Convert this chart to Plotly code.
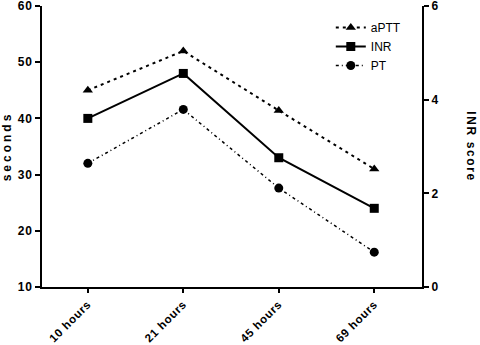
import plotly.graph_objects as go

categories = ["10 hours", "21 hours", "45 hours", "69 hours"]
aptt = [45, 52, 41.4, 31]
inr = [40, 48, 33, 24]
pt = [32, 41.6, 27.6, 16.2]

font_family = "Liberation Sans, Arial, sans-serif"

fig = go.Figure()
fig.add_trace(go.Scatter(
    x=categories, y=aptt, name="aPTT", mode="lines+markers",
    line=dict(color="black", width=2, dash="3px,4px"),
    marker=dict(symbol="triangle-up", size=9, color="black"),
))
fig.add_trace(go.Scatter(
    x=categories, y=inr, name="INR", mode="lines+markers",
    line=dict(color="black", width=2),
    marker=dict(symbol="square", size=9, color="black"),
))
fig.add_trace(go.Scatter(
    x=categories, y=pt, name="PT", mode="lines+markers",
    line=dict(color="black", width=1.5, dash="3px,3px,1px,3px"),
    marker=dict(symbol="circle", size=9, color="black"),
))
fig.add_trace(go.Scatter(
    x=categories, y=[None] * len(categories), yaxis="y2",
    showlegend=False, hoverinfo="skip", mode="lines",
))

tickfont = dict(family=font_family, size=12, color="black", weight="bold")
xtickfont = dict(family=font_family, size=11.5, color="black", weight="bold")

fig.update_layout(
    width=480, height=345,
    margin=dict(l=42, r=58, t=6, b=58, autoexpand=False),
    paper_bgcolor="white", plot_bgcolor="white",
    font=dict(family=font_family, color="black"),
    xaxis=dict(
        type="category", range=[-0.48, 3.5], automargin=False,
        showline=True, linecolor="black", linewidth=2,
        ticks="outside", ticklen=4, tickwidth=2, tickcolor="black",
        tickangle=-45, tickfont=xtickfont, showgrid=False, zeroline=False,
    ),
    yaxis=dict(
        range=[10, 60], dtick=10, ticklabeloverflow="allow", automargin=False,
        showline=True, linecolor="black", linewidth=2,
        ticks="outside", ticklen=5, tickwidth=2, tickcolor="black",
        tickfont=tickfont, showgrid=False, zeroline=False,
        title=dict(text="seconds", font=dict(family=font_family, size=12, color="black", weight="bold"), standoff=6),
    ),
    yaxis2=dict(
        overlaying="y", side="right", anchor="x", automargin=False,
        range=[0, 6], dtick=2, ticklabeloverflow="allow",
        showline=True, linecolor="black", linewidth=2,
        ticks="outside", ticklen=5, tickwidth=2, tickcolor="black",
        tickfont=tickfont, showgrid=False, zeroline=False,
    ),
    legend=dict(
        x=0.76, y=0.975, xanchor="left", yanchor="top",
        font=dict(family=font_family, size=12, color="black"),
        bgcolor="rgba(0,0,0,0)", tracegroupgap=4,
    ),
    annotations=[dict(
        text="INR score", textangle=90, xref="paper", yref="paper",
        x=1.0, xshift=49, y=0.5, showarrow=False, xanchor="center", yanchor="middle",
        font=dict(family=font_family, size=12, color="black", weight="bold"),
    )],
)

post = """
var st = document.createElement('style');
st.textContent = '.xtick text, .ytick text, .y2tick text {letter-spacing: 0.7px;} .ytitle {letter-spacing: 3px;} .annotation-text {letter-spacing: 1.6px;}';
document.head.appendChild(st);
"""

fig.write_html("out.html", post_script=post)
